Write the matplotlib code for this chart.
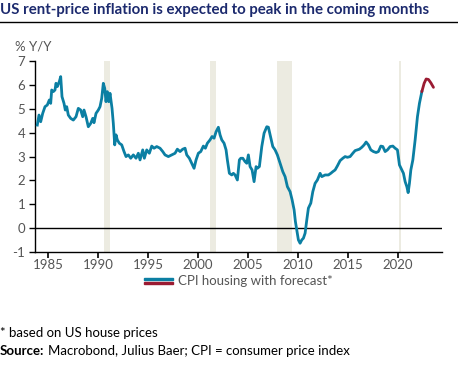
import numpy as np
import matplotlib
matplotlib.use("Agg")
import matplotlib.pyplot as plt
from matplotlib.patches import Rectangle
from matplotlib.legend_handler import HandlerBase

plt.rcParams['font.family'] = ['Lato', 'DejaVu Sans']
plt.rcParams['axes.unicode_minus'] = False

# CPI housing, % Y/Y
years = [1983.93, 1984.1, 1984.27, 1984.47, 1984.7, 1984.93, 1985.13, 1985.27, 1985.37, 1985.53,
         1985.7, 1985.8, 1985.93, 1986.13, 1986.27, 1986.4, 1986.6, 1986.73, 1986.87, 1987.03,
         1987.27, 1987.53, 1987.8, 1988.03, 1988.27, 1988.47, 1988.6, 1988.8, 1989.03, 1989.27,
         1989.47, 1989.6, 1989.8, 1990.03, 1990.2, 1990.37, 1990.53, 1990.67, 1990.8, 1990.93,
         1991.07, 1991.2, 1991.4, 1991.53, 1991.67, 1991.8, 1991.93, 1992.13, 1992.37, 1992.6,
         1992.8, 1993.03, 1993.27, 1993.53, 1993.8, 1994.03, 1994.2, 1994.47, 1994.63, 1994.87,
         1995.13, 1995.37, 1995.6, 1995.87, 1996.2, 1996.47, 1996.7, 1997.03, 1997.37, 1997.7,
         1997.93, 1998.2, 1998.47, 1998.7, 1998.87, 1999.13, 1999.37, 1999.6, 1999.8, 2000.03,
         2000.27, 2000.53, 2000.73, 2000.93, 2001.2, 2001.4, 2001.6, 2001.8, 2002.03, 2002.2,
         2002.37, 2002.6, 2002.8, 2002.93, 2003.13, 2003.37, 2003.53, 2003.7, 2003.93, 2004.13,
         2004.27, 2004.47, 2004.7, 2004.87, 2005.03, 2005.2, 2005.4, 2005.6, 2005.8, 2005.93,
         2006.13, 2006.37, 2006.6, 2006.87, 2007.03, 2007.2, 2007.47, 2007.7, 2007.93, 2008.2,
         2008.47, 2008.7, 2008.93, 2009.2, 2009.4, 2009.6, 2009.73, 2009.87, 2010.03, 2010.2,
         2010.37, 2010.53, 2010.7, 2010.87, 2011.03, 2011.27, 2011.47, 2011.7, 2011.93, 2012.2,
         2012.37, 2012.7, 2013.03, 2013.27, 2013.47, 2013.7, 2013.93, 2014.2, 2014.47, 2014.7,
         2014.93, 2015.2, 2015.47, 2015.7, 2015.93, 2016.13, 2016.37, 2016.6, 2016.8, 2017.03,
         2017.27, 2017.53, 2017.8, 2018.03, 2018.27, 2018.47, 2018.7, 2018.93, 2019.2, 2019.47,
         2019.7, 2019.93, 2020.13, 2020.37, 2020.53, 2020.7, 2020.87, 2021.0, 2021.13, 2021.27,
         2021.47, 2021.7, 2021.93, 2022.13, 2022.37]
cpi_housing = [4.32, 4.74, 4.46, 4.81, 5.09, 5.16, 5.37, 5.23, 5.79, 5.72,
               5.79, 6.07, 5.93, 6.14, 6.35, 5.51, 5.23, 4.95, 5.09, 4.74,
               4.60, 4.53, 4.67, 5.02, 4.95, 4.67, 4.95, 4.67, 4.25, 4.39,
               4.60, 4.42, 4.81, 4.95, 5.09, 5.44, 6.07, 5.86, 5.30, 5.72,
               5.30, 5.65, 5.02, 4.39, 3.49, 3.91, 3.70, 3.56, 3.49, 3.21,
               3.00, 3.07, 2.93, 3.07, 2.93, 3.14, 2.86, 3.28, 2.93, 3.28,
               3.14, 3.44, 3.35, 3.42, 3.35, 3.21, 3.07, 3.00, 3.07, 3.14,
               3.31, 3.21, 3.31, 3.35, 3.07, 2.93, 2.72, 2.51, 2.86, 3.14,
               3.21, 3.44, 3.35, 3.56, 3.70, 3.84, 3.77, 4.04, 4.23, 3.91,
               3.70, 3.56, 3.28, 2.86, 2.30, 2.23, 2.30, 2.23, 2.02, 2.86,
               2.93, 2.93, 2.79, 2.72, 3.07, 2.58, 2.44, 1.95, 2.58, 2.51,
               2.58, 3.42, 3.98, 4.25, 4.23, 3.91, 3.42, 3.28, 3.07, 2.72,
               2.37, 2.16, 1.74, 1.53, 1.19, 0.77, 0.28, -0.07, -0.49, -0.63,
               -0.49, -0.42, -0.21, 0.35, 0.84, 1.05, 1.53, 1.88, 2.02, 2.30,
               2.16, 2.23, 2.23, 2.30, 2.37, 2.44, 2.61, 2.83, 2.93, 3.00,
               2.97, 3.00, 3.14, 3.25, 3.28, 3.31, 3.39, 3.49, 3.61, 3.49,
               3.28, 3.21, 3.17, 3.21, 3.44, 3.42, 3.21, 3.28, 3.42, 3.44,
               3.35, 3.28, 2.65, 2.44, 2.30, 1.95, 1.74, 1.49, 1.88, 2.44,
               2.86, 3.70, 4.67, 5.23, 5.72]

# forecast
fc_years = [2022.37, 2022.6, 2022.8, 2023.03, 2023.27, 2023.53]
fc_values = [5.72, 6.07, 6.25, 6.23, 6.09, 5.90]

# US recessions
recessions = [(1990.58, 1991.2), (2001.17, 2001.83), (2007.92, 2009.42), (2020.08, 2020.3)]

blue = '#0b7fa3'
red = '#9b1b32'
navy = '#1c2a6e'
grey = '#555555'

fig = plt.figure(figsize=(4.58, 3.68), dpi=100)
ax = fig.add_axes([0.0764, 0.315, 0.889, 0.519])

for start, end in recessions:
    ax.axvspan(start, end, color='#ecebe1', lw=0, zorder=0)
ax.axhline(0, color='black', lw=1, zorder=1)
ax.plot(years, cpi_housing, color=blue, lw=2.0, zorder=3, solid_joinstyle='round')
ax.plot(fc_years, fc_values, color=red, lw=2.0, zorder=3, solid_capstyle='round')

ax.set_xlim(1983.7, 2024.4)
ax.set_ylim(-1, 7)
ax.set_xticks(range(1985, 2021, 5))
ax.set_yticks(range(-1, 8))
for s in ['top', 'right']:
    ax.spines[s].set_visible(False)
for s in ['left', 'bottom']:
    ax.spines[s].set_linewidth(1)
ax.tick_params(axis='x', length=4, width=1.2, colors='black', labelcolor=grey, labelsize=9.5, pad=1)
ax.tick_params(axis='y', length=4, width=1, colors='black', labelcolor=grey, labelsize=9.5, pad=3)

fig.text(0.033, 0.873, '% Y/Y', color=grey, fontsize=9.5, va='center')


class TwoStripe(HandlerBase):
    def create_artists(self, legend, orig, xd, yd, w, h, fontsize, trans):
        top = Rectangle((-xd, -yd + h * 0.55), w, h * 0.28, color=blue, transform=trans)
        bot = Rectangle((-xd, -yd + h * 0.1), w, h * 0.28, color=red, transform=trans)
        return [top, bot]


ax.legend([Rectangle((0, 0), 1, 1)], ['CPI housing with forecast*'], handler_map={Rectangle: TwoStripe()},
          loc='upper center', bbox_to_anchor=(0.5, -0.06), frameon=False, fontsize=9.5,
          labelcolor=grey, handlelength=2.2, handletextpad=0.4)

fig.text(0.0, 0.972, 'US rent-price inflation is expected to peak in the coming months',
         color=navy, fontsize=10.8, fontweight='bold', va='center', ha='left')
fig.add_artist(plt.Line2D([0, 1], [0.94, 0.94], color='black', lw=1))

fig.text(0.0, 0.095, '* based on US house prices', color='black', fontsize=9.5, va='center')
src = fig.text(0.0, 0.045, 'Source:', color='black', fontsize=9.5, fontweight='bold', va='center')
fig.canvas.draw()
bb = src.get_window_extent()
fig.text(bb.x1 / fig.bbox.width + 0.008, 0.045, 'Macrobond, Julius Baer; CPI = consumer price index',
         color='black', fontsize=9.5, va='center')

fig.savefig('out.png', dpi=100)
